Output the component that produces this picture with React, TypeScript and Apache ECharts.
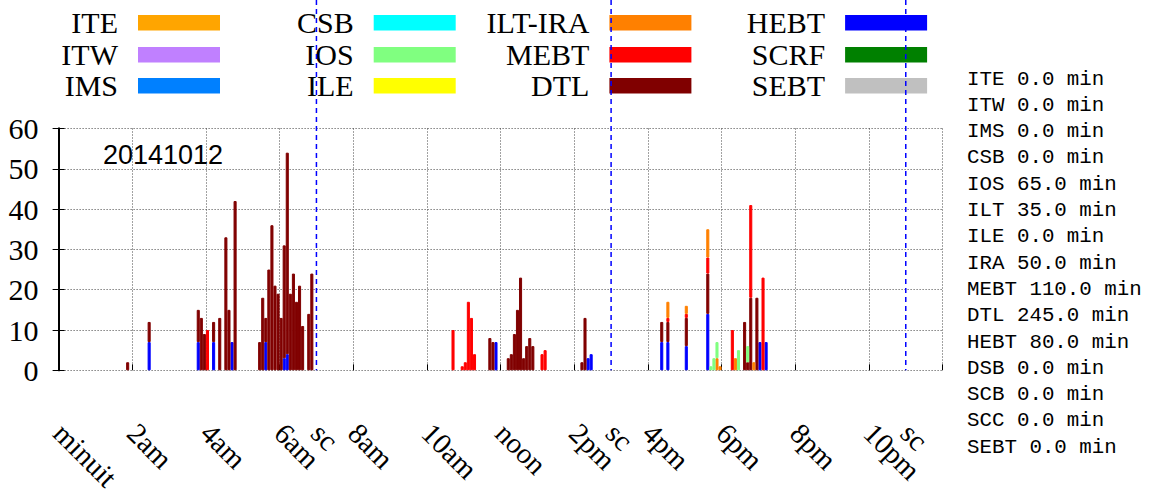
import React, { useEffect, useRef } from 'react';
import * as echarts from 'echarts';

// ---------- data ----------
const BIN_MINUTES = 5;
const BIN_COUNT = 288; // 24h in 5-minute slots

// stacking order, bottom -> top
const stackOrder = ['SEBT', 'SCRF', 'HEBT', 'DTL', 'MEBT', 'ILT-IRA', 'ILE', 'IOS', 'CSB', 'IMS', 'ITW', 'ITE'];

const seriesColors: Record<string, string> = {
  ITE: '#ffa500',
  ITW: '#c080ff',
  IMS: '#0080ff',
  CSB: '#00ffff',
  IOS: '#80ff80',
  ILE: '#ffff00',
  'ILT-IRA': '#ff8000',
  MEBT: '#ff0000',
  DTL: '#800000',
  HEBT: '#0000ff',
  SCRF: '#008000',
  SEBT: '#c0c0c0',
};

// legend, column by column
const legendColumns = [
  ['ITE', 'ITW', 'IMS'],
  ['CSB', 'IOS', 'ILE'],
  ['ILT-IRA', 'MEBT', 'DTL'],
  ['HEBT', 'SCRF', 'SEBT'],
];

// [slot start time, value]
const dtlValues: [string, number][] = [
  ['01:50', 2], ['02:25', 5], ['03:45', 8], ['03:50', 13], ['03:55', 9], ['04:10', 5],
  ['04:20', 13], ['04:30', 33], ['04:35', 15], ['04:45', 42],
  ['05:25', 7], ['05:30', 18], ['05:35', 6], ['05:40', 25], ['05:45', 36], ['05:50', 21],
  ['05:55', 19], ['06:00', 13], ['06:05', 28], ['06:10', 50], ['06:15', 19], ['06:20', 24],
  ['06:25', 17], ['06:30', 21], ['06:35', 11], ['06:45', 14], ['06:50', 24],
  ['11:40', 8], ['11:45', 7], ['12:10', 3], ['12:15', 4], ['12:20', 9], ['12:25', 15],
  ['12:30', 23], ['12:35', 3], ['12:40', 6], ['12:45', 8], ['12:50', 6],
  ['14:10', 2], ['14:15', 13], ['16:20', 5], ['16:30', 5], ['17:00', 7], ['17:35', 10],
  ['18:35', 12], ['18:40', 2], ['18:45', 18], ['18:55', 18],
];
const hebtValues: [string, number][] = [
  ['02:25', 7], ['03:45', 7], ['04:10', 7], ['04:40', 7], ['05:35', 7], ['06:05', 3],
  ['06:10', 4], ['11:50', 7], ['14:20', 3], ['14:25', 4], ['16:20', 7], ['16:30', 7],
  ['17:00', 6], ['17:35', 14], ['19:00', 7], ['19:10', 7],
];
const mebtValues: [string, number][] = [
  ['04:00', 10], ['10:40', 10], ['10:55', 1], ['11:00', 2], ['11:05', 17], ['11:10', 13],
  ['11:15', 4], ['13:05', 4], ['13:10', 5], ['16:30', 1], ['17:00', 1], ['17:35', 4],
  ['18:15', 10], ['18:45', 23], ['19:05', 23],
];
const iltIraValues: [string, number][] = [
  ['16:30', 4], ['17:00', 2], ['17:35', 7], ['17:50', 3], ['17:55', 1], ['18:20', 3], ['18:50', 2],
];
const iosValues: [string, number][] = [
  ['17:40', 1], ['17:45', 3], ['17:50', 4], ['18:25', 5], ['18:40', 4],
];

const seriesValues: Record<string, [string, number][]> = {
  DTL: dtlValues,
  HEBT: hebtValues,
  MEBT: mebtValues,
  'ILT-IRA': iltIraValues,
  IOS: iosValues,
};

// x tick labels (every 2 hours) and shift-change markers
const hourTickLabels = ['minuit', '2am', '4am', '6am', '8am', '10am', 'noon', '2pm', '4pm', '6pm', '8pm', '10pm'];
const shiftHours = [7, 15, 23];
const shiftLabel = 'sc';

const dateLabel = '20141012';

// summary on the right
const summaryNames = ['ITE', 'ITW', 'IMS', 'CSB', 'IOS', 'ILT', 'ILE', 'IRA', 'MEBT', 'DTL', 'HEBT', 'DSB', 'SCB', 'SCC', 'SEBT'];
const summaryMinutes = [0, 0, 0, 0, 65, 35, 0, 50, 110, 245, 80, 0, 0, 0, 0];

// ---------- helpers ----------
const slotIndex = (t: string) => {
  const [h, m] = t.split(':').map(Number);
  return Math.round((h * 60 + m) / BIN_MINUTES);
};
const buildSeriesArray = (vals: [string, number][] | undefined) => {
  const arr: (number | null)[] = new Array(BIN_COUNT).fill(null);
  (vals || []).forEach(([t, v]) => { arr[slotIndex(t)] = v; });
  return arr;
};

const SERIF = '"Liberation Serif", "Times New Roman", serif';
const MONO = '"Liberation Mono", "Courier New", monospace';
const SANS = '"Liberation Sans", Arial, sans-serif';

export default function App() {
  const ref = useRef<HTMLDivElement>(null);

  useEffect(() => {
    if (!ref.current) return;
    const chart = echarts.init(ref.current, null, { renderer: 'svg' });

    const categories = Array.from({ length: BIN_COUNT }, (_, i) => String(i));
    const gridDotted = { color: '#444', width: 1, type: [1, 2] as any };

    const labelForHour = (v: number) => {
      if (shiftHours.includes(v)) return shiftLabel;
      if (v % 2 === 0 && v / 2 < hourTickLabels.length) return hourTickLabels[v / 2];
      return '';
    };

    const option: any = {
      animation: false,
      backgroundColor: '#fff',
      grid: {
        left: 58.6, top: 128.5, width: 884, height: 241.8,
        containLabel: false, outerBoundsMode: 'none',
      },
      xAxis: [
        { type: 'category', data: categories, show: false, boundaryGap: true },
        {
          type: 'value', min: 0, max: 24, interval: 2, position: 'bottom',
          axisLine: { show: false },
          axisTick: { show: true, inside: true, length: 6, lineStyle: { color: '#000' } },
          axisLabel: { show: false },
          splitLine: { show: true, lineStyle: gridDotted },
        },
        {
          type: 'value', min: 0, max: 24, interval: 1, position: 'bottom',
          axisLine: { show: false }, axisTick: { show: false }, splitLine: { show: false },
          axisLabel: {
            show: true, rotate: -45, margin: 58, formatter: labelForHour,
            fontFamily: SERIF, fontSize: 29, color: '#000', hideOverlap: false,
          },
        },
      ],
      yAxis: [
        {
          type: 'value', min: 0, max: 60, interval: 10, position: 'left',
          axisLine: { show: true, lineStyle: { color: '#000', width: 2 } },
          axisTick: { show: true, inside: true, length: 6, lineStyle: { color: '#000' } },
          axisLabel: { fontFamily: SERIF, fontSize: 30, color: '#000', margin: 20 },
          splitLine: { show: true, lineStyle: gridDotted },
        },
        {
          type: 'value', min: 0, max: 60, interval: 10, position: 'right',
          axisLine: { show: true, lineStyle: { color: '#000', width: 2 } },
          axisTick: { show: true, inside: true, length: 6, lineStyle: { color: '#000' } },
          axisLabel: { show: false },
          splitLine: { show: false },
        },
      ],
      series: stackOrder.map((name) => ({
        name,
        type: 'bar',
        stack: 'total',
        xAxisIndex: 0,
        yAxisIndex: 0,
        barCategoryGap: '0%',
        barGap: '0%',
        itemStyle: { color: seriesColors[name], borderColor: seriesColors[name], borderWidth: 1 },
        data: buildSeriesArray(seriesValues[name]),
      })),
    };
    chart.setOption(option);

    // --- overlay graphics: legend, date, summary, shift-change lines ---
    const graphics: any[] = [];
    const boxX0 = 138;
    const colStep = 235.7;
    const rowY = [22.8, 54.8, 85.8];
    legendColumns.forEach((col, c) => {
      col.forEach((name, r) => {
        const bx = boxX0 + c * colStep;
        graphics.push({
          type: 'text', x: bx - 20, y: rowY[r], z: 50,
          style: { text: name, fontFamily: SERIF, fontSize: 30, fill: '#000', align: 'right', verticalAlign: 'middle' },
        });
        graphics.push({
          type: 'rect', z: 50,
          shape: { x: bx, y: rowY[r] - 7.8, width: 82, height: 15.6 },
          style: { fill: seriesColors[name] },
        });
      });
    });
    graphics.push({
      type: 'text', x: 103, y: 155, z: 50,
      style: { text: dateLabel, fontFamily: SANS, fontSize: 27, fill: '#000', align: 'left', verticalAlign: 'middle' },
    });
    summaryNames.forEach((n, i) => {
      graphics.push({
        type: 'text', x: 967, y: 79 + i * 26.3, z: 50,
        style: {
          text: `${n} ${summaryMinutes[i].toFixed(1)} min`,
          fontFamily: MONO, fontSize: 20.8, fill: '#000', align: 'left', verticalAlign: 'middle',
        },
      });
    });
    const yBottom = chart.convertToPixel({ yAxisIndex: 0 }, 0) as number;
    shiftHours.forEach((h) => {
      const x = chart.convertToPixel({ xAxisIndex: 1 }, h) as number;
      graphics.push({
        type: 'line', z: 60,
        shape: { x1: x, y1: 0, x2: x, y2: yBottom },
        style: { stroke: '#0000ff', lineWidth: 1.5, lineDash: [5, 4] },
      });
    });
    chart.setOption({ graphic: graphics });

    return () => chart.dispose();
  }, []);

  return (
    <div
      ref={ref}
      style={{ position: 'fixed', left: 0, top: 0, width: 1165, height: 493, background: '#fff' }}
    />
  );
}
